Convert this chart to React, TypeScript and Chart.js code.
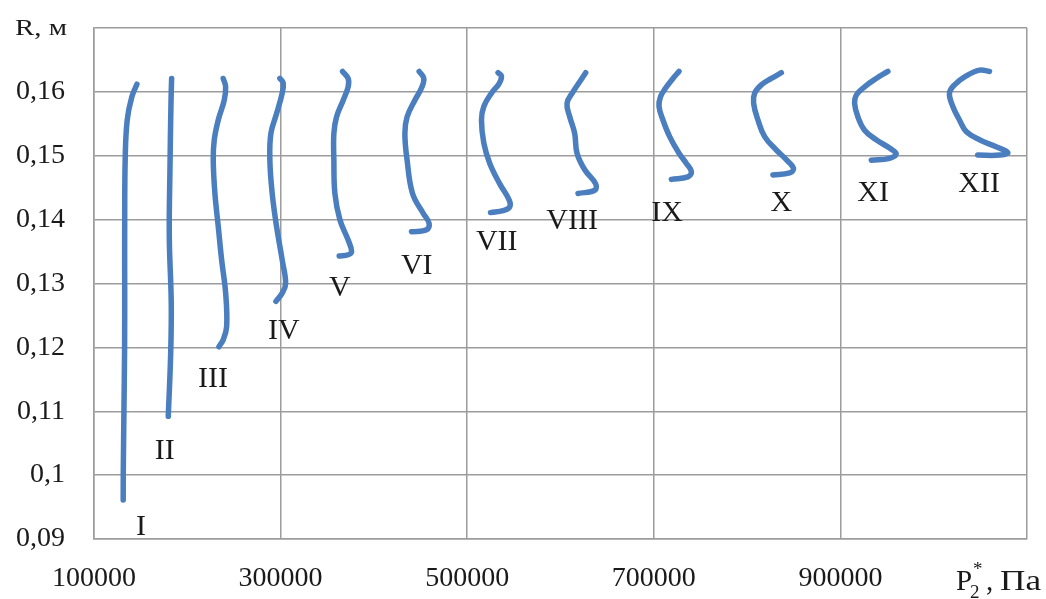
import React, { useEffect, useRef } from "react";
import { Chart, registerables } from "chart.js";

Chart.register(...registerables);

// ---- Data: P2* (Pa) vs R (m) for each stage I..XII ----
const p1 = [146000, 140500, 135600, 133500, 132900, 132900, 132800, 132100, 131400, 131300];
const r1 = [0.1612, 0.1592, 0.1556, 0.1499, 0.14, 0.1295, 0.1201, 0.1102, 0.1008, 0.0961];

const p2 = [183200, 182500, 181400, 180700, 182800, 182200, 179600];
const r2 = [0.1621, 0.1582, 0.1478, 0.1373, 0.1269, 0.1191, 0.1092];

const p3 = [238500, 241100, 239600, 233200, 228900, 227800, 229600, 233200, 236800, 241100, 242200, 238500, 233900];
const r3 = [0.1621, 0.1608, 0.1587, 0.1556, 0.1525, 0.1493, 0.1441, 0.1389, 0.1337, 0.1285, 0.1233, 0.1212, 0.1201];

const p4 = [299200, 302800, 301700, 295700, 289600, 288500, 291000, 295700, 301700, 305400, 301700, 295000];
const r4 = [0.1621, 0.1614, 0.1598, 0.1566, 0.1535, 0.1493, 0.1441, 0.1389, 0.1337, 0.13, 0.1285, 0.1272];

const p5 = [366400, 372400, 372400, 367100, 360000, 357100, 357100, 358200, 363500, 372400, 376100, 372400, 362800];
const r5 = [0.1632, 0.1621, 0.1608, 0.1587, 0.1561, 0.1535, 0.1493, 0.1441, 0.14, 0.1368, 0.135, 0.1345, 0.1343];

const p6 = [448500, 453500, 451000, 443900, 435600, 433200, 435600, 441400, 452800, 459200, 456400, 440300];
const r6 = [0.1632, 0.1621, 0.1606, 0.1587, 0.1561, 0.1535, 0.1493, 0.1441, 0.141, 0.1394, 0.1384, 0.1381];

const p7 = [533100, 536700, 534200, 526000, 517800, 515300, 517800, 524200, 534900, 544900, 545600, 538500, 525000];
const r7 = [0.163, 0.1625, 0.1613, 0.1598, 0.1577, 0.1556, 0.152, 0.1488, 0.1456, 0.1431, 0.142, 0.1414, 0.1411];

const p8 = [627000, 620600, 613400, 607000, 609900, 615200, 617700, 626000, 637700, 636700, 618800];
const r8 = [0.163, 0.1616, 0.16, 0.1582, 0.1561, 0.1535, 0.1504, 0.1478, 0.1456, 0.1446, 0.1441];

const p9 = [727000, 720500, 712700, 707100, 705600, 709800, 717000, 727000, 734900, 740300, 736600, 718800];
const r9 = [0.1632, 0.1621, 0.1606, 0.1592, 0.1577, 0.1556, 0.153, 0.1504, 0.1488, 0.1475, 0.1467, 0.1463];

const p10 = [836700, 826000, 815200, 808100, 807000, 811600, 818800, 831300, 842000, 849800, 845600, 827700];
const r10 = [0.163, 0.1621, 0.1611, 0.1598, 0.1582, 0.1556, 0.153, 0.1509, 0.1494, 0.148, 0.1473, 0.147];

const p11 = [950900, 938400, 925900, 917000, 915200, 918700, 925900, 938400, 952700, 959800, 952700, 933100];
const r11 = [0.1632, 0.1621, 0.1608, 0.1595, 0.1582, 0.1561, 0.154, 0.1525, 0.1512, 0.1503, 0.1496, 0.1493];

const p12 = [1059800, 1049100, 1034800, 1022300, 1016900, 1020500, 1027600, 1034800, 1049100, 1066900, 1079400, 1070500, 1047200];
const r12 = [0.1632, 0.1634, 0.1625, 0.1611, 0.1598, 0.1577, 0.1556, 0.1538, 0.1525, 0.1514, 0.1505, 0.1501, 0.1501];

const seriesP = [p1, p2, p3, p4, p5, p6, p7, p8, p9, p10, p11, p12];
const seriesR = [r1, r2, r3, r4, r5, r6, r7, r8, r9, r10, r11, r12];

// Stage names and the data position of each annotation
const stageNames = ["I", "II", "III", "IV", "V", "VI", "VII", "VIII", "IX", "X", "XI", "XII"];
const nameP = [150300, 175900, 227500, 303500, 363500, 445900, 531700, 612500, 714300, 836600, 935000, 1048600];
const nameR = [0.0918, 0.1037, 0.1151, 0.1226, 0.1293, 0.1327, 0.1364, 0.1398, 0.141, 0.1426, 0.1442, 0.1455];

// Axis ticks
const xTicks = [100000, 300000, 500000, 700000, 900000, 1100000];
const xTickLabels = ["100000", "300000", "500000", "700000", "900000", ""];
const yTicks = [0.09, 0.1, 0.11, 0.12, 0.13, 0.14, 0.15, 0.16, 0.17];
const yTickLabels = ["0,09", "0,1", "0,11", "0,12", "0,13", "0,14", "0,15", "0,16", ""];

const SERIF = '"Liberation Serif", "Times New Roman", serif';
const TEXT = "#1a1a1a";
const GRID = "#9c9c9c";
const LINE = "#4a7ebf";

const textPlugin = {
  id: "stageText",
  afterDraw(chart: any) {
    const ctx = chart.ctx;
    const xs = chart.scales.x;
    const ys = chart.scales.y;
    ctx.save();
    ctx.fillStyle = TEXT;
    // stage names
    ctx.font = `30px ${SERIF}`;
    ctx.textAlign = "center";
    ctx.textBaseline = "middle";
    stageNames.forEach((n, i) => {
      ctx.fillText(n, xs.getPixelForValue(nameP[i]), ys.getPixelForValue(nameR[i]));
    });
    // y-axis title "R, м"
    ctx.textAlign = "left";
    ctx.textBaseline = "alphabetic";
    ctx.save();
    ctx.translate(15, 35);
    ctx.font = `24px ${SERIF}`;
    const wr = ctx.measureText("R, м").width;
    ctx.scale(52 / wr, 1);
    ctx.fillText("R, м", 0, 0);
    ctx.restore();
    // x-axis title "P2*, Па"
    ctx.font = `29px ${SERIF}`;
    ctx.fillText("P", 956, 590);
    ctx.font = `19px ${SERIF}`;
    ctx.fillText("2", 970, 598);
    ctx.fillText("*", 973, 575);
    ctx.font = `29px ${SERIF}`;
    ctx.fillText(",", 986, 590);
    const w = ctx.measureText("Па").width;
    ctx.save();
    ctx.translate(1000, 590);
    ctx.scale(41 / w, 1);
    ctx.fillText("Па", 0, 0);
    ctx.restore();
    ctx.restore();
  },
};

export default function App() {
  const ref = useRef<HTMLCanvasElement>(null);
  useEffect(() => {
    if (!ref.current) return;
    const datasets = seriesP.map((ps, i) => ({
      label: stageNames[i],
      data: ps.map((p, k) => ({ x: p, y: seriesR[i][k] })),
      showLine: true,
      borderColor: LINE,
      backgroundColor: LINE,
      borderWidth: 5.5,
      pointRadius: 0,
      tension: 0.4,
      borderCapStyle: "round",
      borderJoinStyle: "round",
      fill: false,
    }));
    const chart = new Chart(ref.current, {
      type: "scatter",
      data: { datasets } as any,
      plugins: [textPlugin],
      options: {
        animation: false,
        responsive: true,
        maintainAspectRatio: false,
        layout: { padding: { top: 28, right: 19, left: 0, bottom: 0 } },
        plugins: { legend: { display: false }, tooltip: { enabled: false } },
        scales: {
          x: {
            type: "linear",
            min: 100000,
            max: 1100000,
            afterBuildTicks: (s: any) => {
              s.ticks = xTicks.map((v) => ({ value: v }));
            },
            afterFit: (s: any) => {
              s.height = 60;
              s.paddingLeft = 0;
              s.paddingRight = 0;
            },
            grid: { color: GRID, lineWidth: 1.5, drawTicks: false },
            border: { color: GRID, width: 1.5 },
            ticks: {
              padding: 23,
              color: TEXT,
              font: { family: SERIF, size: 28 },
              maxRotation: 0,
              autoSkip: false,
              callback: (v: any) => xTickLabels[xTicks.indexOf(Number(v))] ?? "",
            },
          },
          y: {
            type: "linear",
            min: 0.09,
            max: 0.17,
            afterBuildTicks: (s: any) => {
              s.ticks = yTicks.map((v) => ({ value: v }));
            },
            afterFit: (s: any) => {
              s.width = 94;
              s.paddingTop = 0;
              s.paddingBottom = 0;
            },
            grid: { color: GRID, lineWidth: 1.5, drawTicks: false },
            border: { color: GRID, width: 1.5 },
            ticks: {
              padding: 29,
              color: TEXT,
              font: { family: SERIF, size: 28 },
              autoSkip: false,
              callback: (v: any) => {
                const idx = yTicks.findIndex((t) => Math.abs(t - Number(v)) < 1e-6);
                return idx >= 0 ? yTickLabels[idx] : "";
              },
            },
          },
        },
      } as any,
    });
    return () => chart.destroy();
  }, []);
  return (
    <div style={{ position: "fixed", left: 0, top: 0, width: 1046, height: 599, background: "#fff" }}>
      <canvas ref={ref} />
    </div>
  );
}
